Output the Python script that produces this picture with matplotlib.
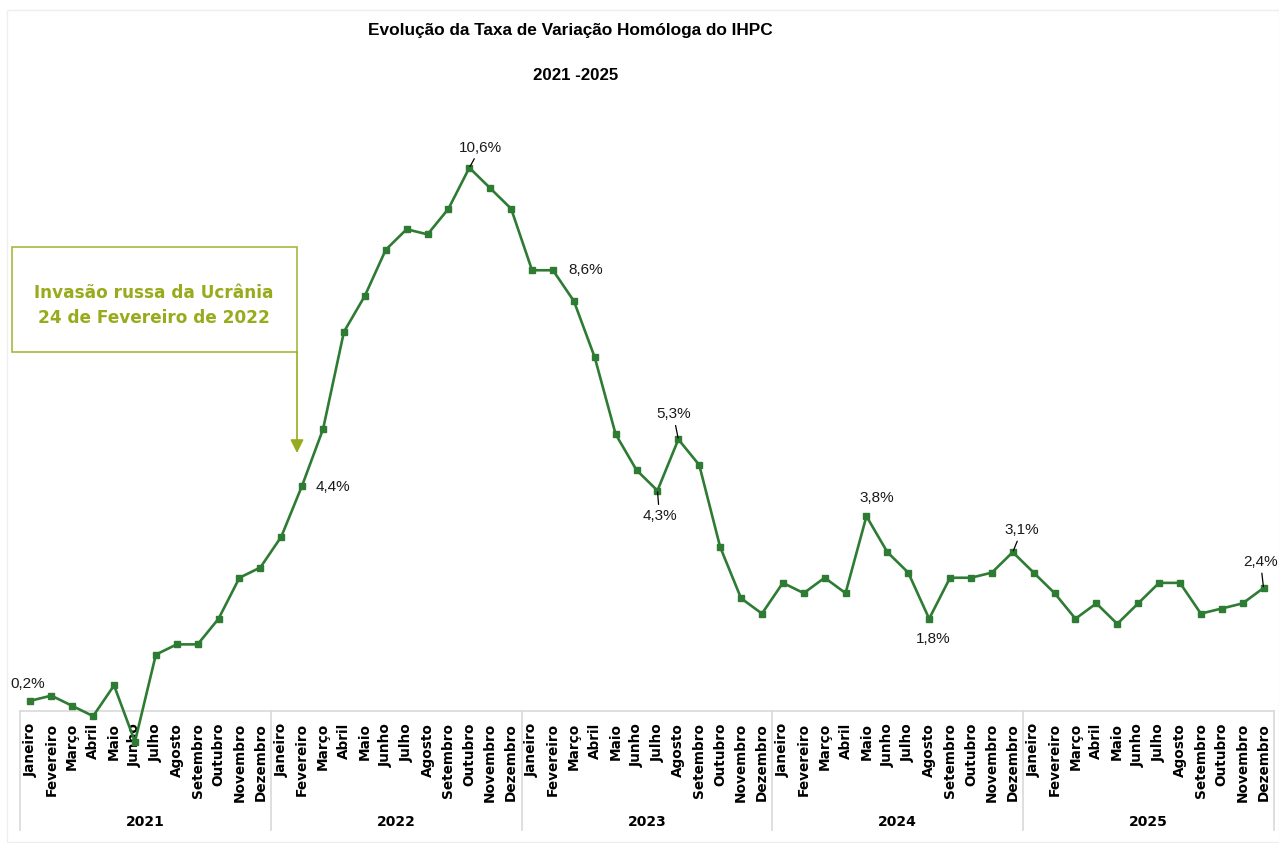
import matplotlib
matplotlib.use("Agg")
import matplotlib.pyplot as plt
from matplotlib.patches import Rectangle, FancyArrowPatch

plt.rcParams['font.family'] = ['Liberation Sans', 'DejaVu Sans']

years = ["2021", "2022", "2023", "2024", "2025"]
months = ["Janeiro", "Fevereiro", "Março", "Abril", "Maio", "Junho", "Julho",
          "Agosto", "Setembro", "Outubro", "Novembro", "Dezembro"]
values_2021 = [0.2, 0.3, 0.1, -0.1, 0.5, -0.6, 1.1, 1.3, 1.3, 1.8, 2.6, 2.8]
values_2022 = [3.4, 4.4, 5.5, 7.4, 8.1, 9.0, 9.4, 9.3, 9.8, 10.6, 10.2, 9.8]
values_2023 = [8.6, 8.6, 8.0, 6.9, 5.4, 4.7, 4.3, 5.3, 4.8, 3.2, 2.2, 1.9]
values_2024 = [2.5, 2.3, 2.6, 2.3, 3.8, 3.1, 2.7, 1.8, 2.6, 2.6, 2.7, 3.1]
values_2025 = [2.7, 2.3, 1.8, 2.1, 1.7, 2.1, 2.5, 2.5, 1.9, 2.0, 2.1, 2.4]
values = values_2021 + values_2022 + values_2023 + values_2024 + values_2025

# labelled points: (index, offset in px (dx, dy up), leader line)
labelled = [
    (0, (-3, 17), False),
    (13, (31, -2), False),
    (21, (11, 20), True),
    (25, (33, 0), False),
    (30, (2, -25), True),
    (31, (-5, 25), True),
    (40, (10, 18), False),
    (43, (4, -20), False),
    (47, (9, 22), True),
    (59, (-3, 26), True),
]

W, H = 1279, 843
fig = plt.figure(figsize=(W / 100, H / 100), dpi=100)

def F(x, y):
    return (x / W, 1 - y / H)

heavy = dict(family=["DejaVu Sans"], fontweight="bold")

# plot area: x 20..1274 px, y 96..711 px
ax = fig.add_axes([20 / W, 1 - 711 / H, 1254 / W, 615 / H])
n = len(values)
xs = list(range(n))
ax.set_xlim(-0.5, n - 0.5)
ax.set_ylim(0, 12)
for s in ["top", "right", "left"]:
    ax.spines[s].set_visible(False)
ax.spines["bottom"].set_color("#D9D9D9")
ax.spines["bottom"].set_linewidth(1.2)
ax.set_yticks([])
ax.set_xticks([])

line_color = "#2E7B34"
ax.plot(xs, values, color=line_color, lw=1.9, marker="s", ms=3.8,
        clip_on=False, zorder=5)

pxy = 12 / 615  # data units per px
# month labels
for i in range(n):
    ax.text(i, -12 * pxy, months[i % 12], rotation=90, ha="center", va="top",
            fontsize=9.8, color="black", clip_on=False, **heavy)
# year labels and separators
for k, yr in enumerate(years):
    ax.text(12 * k + 5.5, -111 * pxy, yr, ha="center", va="center",
            fontsize=10, color="black", clip_on=False, **heavy)
for k in range(len(years) + 1):
    ax.plot([12 * k - 0.5, 12 * k - 0.5], [0, -119 * pxy], color="#D9D9D9",
            lw=1.2, clip_on=False)

# data labels
for idx, (dx, dy), leader in labelled:
    txt = f"{values[idx]:.1f}%".replace(".", ",")
    kw = {}
    if leader:
        kw["arrowprops"] = dict(arrowstyle="-", color="black", lw=0.9,
                                shrinkA=1, shrinkB=1)
    ax.annotate(txt, xy=(idx, values[idx]), xytext=(dx * 0.72, dy * 0.72),
                textcoords="offset points", ha="center", va="center",
                fontsize=11, color="#1A1A1A", zorder=6, **kw)

# titles
fig.text(*F(570, 30), "Evolução da Taxa de Variação Homóloga do IHPC",
         ha="center", va="center", fontsize=12.4, fontweight="bold")
fig.text(*F(576, 75), "2021 -2025", ha="center", va="center",
         fontsize=12.2, fontweight="bold")

# annotation box
olive = "#98AB1C"
x0, y0 = F(12, 352)
x1, y1 = F(297, 247)
fig.add_artist(Rectangle((x0, y0), x1 - x0, y1 - y0, transform=fig.transFigure,
                         facecolor="white", edgecolor="#A8B83E", lw=1.2))
fig.text(*F(154, 293), "Invasão russa da Ucrânia", ha="center", va="center",
         fontsize=12.2, color=olive, **heavy)
fig.text(*F(154, 318), "24 de Fevereiro de 2022", ha="center", va="center",
         fontsize=12.2, color=olive, **heavy)
fig.add_artist(FancyArrowPatch(F(297, 352), F(297, 453),
                               transform=fig.transFigure,
                               arrowstyle="-|>,head_length=8,head_width=4",
                               color=olive, lw=1.2, shrinkA=0, shrinkB=0))

# outer chart border (faint)
bx0, by0 = F(7, 842)
bx1, by1 = F(1279, 10)
fig.add_artist(Rectangle((bx0, by0), bx1 - bx0, by1 - by0,
                         transform=fig.transFigure, facecolor="none",
                         edgecolor="#EEEEEE", lw=1))

fig.savefig("out.png", dpi=100)
